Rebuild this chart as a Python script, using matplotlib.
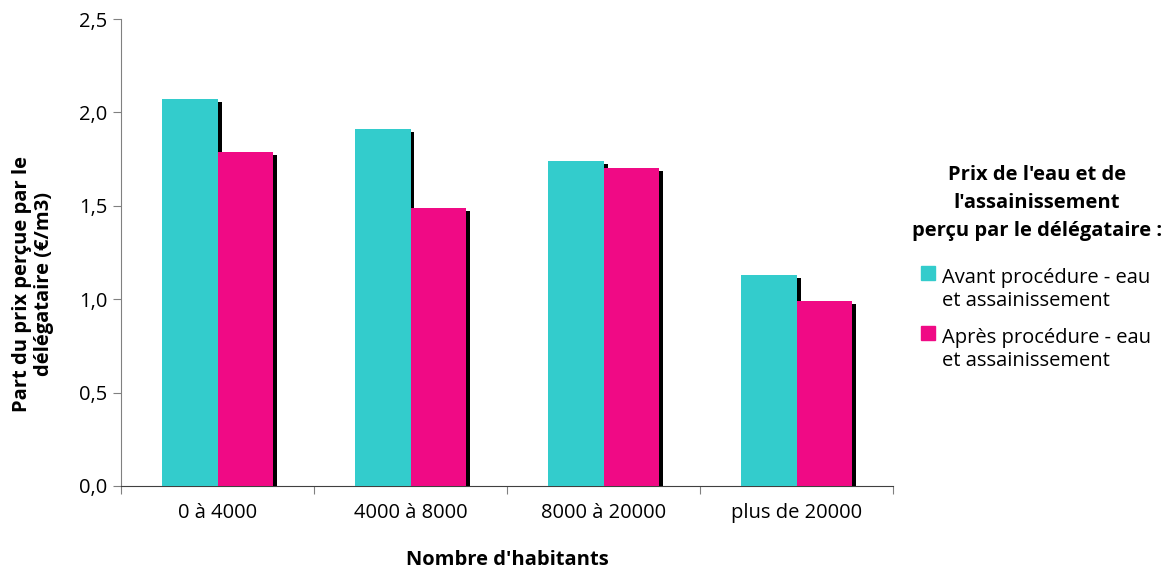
import numpy as np
import matplotlib.pyplot as plt
from matplotlib.patches import Rectangle

plt.rcParams['font.family'] = ['Open Sans', 'DejaVu Sans']

categories = ['0 à 4000', '4000 à 8000', '8000 à 20000', 'plus de 20000']
avant = [2.07, 1.91, 1.74, 1.13]
apres = [1.79, 1.49, 1.70, 0.99]
series_labels = ['Avant procédure - eau\net assainissement',
                 'Après procédure - eau\net assainissement']
legend_title = "Prix de l'eau et de\nl'assainissement\nperçu par le délégataire :"
yticks = [0.0, 0.5, 1.0, 1.5, 2.0, 2.5]

cyan = '#33CCCC'
pink = '#F00A85'
fs = 14.5

fig = plt.figure(figsize=(11.62, 5.71), dpi=100)
ax = fig.add_axes([121 / 1162, 1 - 486 / 571, 772 / 1162, 467 / 571])

x = np.arange(len(categories))
w = 0.29
# shadow offset in data units (~4 px right, ~3 px down)
dx = 4 / 193
dy = 3 / 187

for i, (vals, col) in enumerate([(avant, cyan), (apres, pink)]):
    xs = x + (i - 0.5) * w
    ax.bar(xs + dx, np.array(vals) - dy, width=w, color='black', zorder=2 + 2 * i)
    ax.bar(xs, vals, width=w, color=col, zorder=3 + 2 * i)

ax.set_xlim(-0.5, len(categories) - 0.5)
ax.set_ylim(0, 2.5)
ax.set_yticks(yticks)
ax.set_yticklabels([f'{v:.1f}'.replace('.', ',') for v in yticks], fontsize=fs)
ax.set_xticks(np.arange(len(categories) + 1) - 0.5)
ax.set_xticklabels([])
ax.set_xticks(x, minor=True)
ax.set_xticklabels(categories, minor=True, fontsize=fs)
ax.tick_params(axis='x', which='minor', length=0, pad=12)
ax.tick_params(axis='x', which='major', length=6, color='#808080')
ax.tick_params(axis='y', length=6, color='#808080', pad=4)

for s in ['top', 'right']:
    ax.spines[s].set_visible(False)
ax.spines['left'].set_color('#808080')
ax.spines['bottom'].set_color('#404040')

fig.text(33 / 1162, 1 - 284 / 571, "Part du prix perçue par le\ndélégataire (€/m3)",
         rotation=90, ha='center', va='center', fontsize=fs, fontweight='bold',
         linespacing=1.1)
fig.text(507 / 1162, 1 - 560 / 571, "Nombre d'habitants", ha='center', va='center',
         fontsize=fs, fontweight='bold')

# legend
fig.text(1037 / 1162, 1 - 203 / 571, legend_title, ha='center', va='center',
         fontsize=fs, fontweight='bold', linespacing=1.55)
for label, col, yc in [(series_labels[0], cyan, 290), (series_labels[1], pink, 350)]:
    fig.patches.append(Rectangle((921 / 1162, 1 - (yc - 10) / 571), 14 / 1162, 14 / 571,
                                 transform=fig.transFigure, color=col))
    fig.text(942 / 1162, 1 - yc / 571, label, ha='left', va='center',
             fontsize=fs, linespacing=1.2)

fig.savefig('out.png', dpi=100)
